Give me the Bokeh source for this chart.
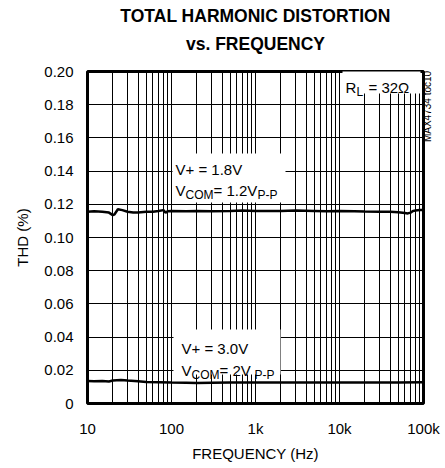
from bokeh.plotting import figure
from bokeh.models import (FixedTicker, PrintfTickFormatter, Label, BoxAnnotation,
                          Range1d, Title, LinearAxis)
from bokeh.embed import file_html
from bokeh.resources import INLINE
import math

# ---------------- data ----------------
x_tick_values = [10, 100, 1000, 10000, 100000]
x_tick_labels = ["10", "100", "1k", "10k", "100k"]
y_tick_values = [0, 0.02, 0.04, 0.06, 0.08, 0.10, 0.12, 0.14, 0.16, 0.18, 0.20]

freq_18 = [10, 12, 15, 18, 20, 21, 23, 26, 30, 35, 40, 50, 60, 70, 80, 85, 90, 100,
           150, 200, 300, 500, 700, 1000, 2000, 3000, 5000, 7000, 10000, 15000,
           20000, 30000, 40000, 50000, 60000, 65000, 70000, 75000, 80000, 90000, 100000]
thd_18 = [0.1155, 0.1158, 0.1155, 0.1150, 0.1135, 0.1140, 0.1170, 0.1165, 0.1155,
          0.1150, 0.1150, 0.1155, 0.1155, 0.1160, 0.1165, 0.1150, 0.1158, 0.1160,
          0.1158, 0.1160, 0.1158, 0.1160, 0.1162, 0.1160, 0.1160, 0.1162, 0.1160,
          0.1158, 0.1160, 0.1158, 0.1156, 0.1155, 0.1155, 0.1152, 0.1148, 0.1145,
          0.1150, 0.1160, 0.1162, 0.1165, 0.1165]

freq_30 = [10, 12, 15, 18, 20, 25, 30, 40, 50, 70, 100, 150, 200, 300, 500, 1000,
           2000, 5000, 10000, 20000, 50000, 100000]
thd_30 = [0.0135, 0.0134, 0.0136, 0.0133, 0.0138, 0.0142, 0.0138, 0.0134, 0.0130,
          0.0128, 0.0126, 0.0125, 0.0124, 0.0125, 0.0126, 0.0127, 0.0127, 0.0127,
          0.0127, 0.0127, 0.0127, 0.0128]

part_number = "MAX4734 toc10"
part_number_pos = 0.1575

FONT = "Liberation Sans"

# frame: left 87, right 423, top 69, bottom 403 in a 445x468 canvas
p = figure(width=445, height=468, x_axis_type="log", output_backend="svg",
           toolbar_location=None, min_border_left=87, min_border_right=22,
           min_border_top=69, min_border_bottom=65,
           x_range=Range1d(10, 100000), y_range=Range1d(0, 0.2))
p.title.visible = False
p.background_fill_color = "white"
p.border_fill_color = "white"
p.outline_line_color = "black"
p.outline_line_width = 3

# grid
minor = []
for d in [10, 100, 1000, 10000]:
    for k in range(1, 10):
        minor.append(d * k)
minor.append(100000)
p.xgrid.ticker = FixedTicker(ticks=minor)
p.ygrid.ticker = FixedTicker(ticks=y_tick_values)
for g in (p.xgrid, p.ygrid):
    g.grid_line_color = "black"
    g.grid_line_width = 1
    g.grid_line_alpha = 1.0

# axes
p.xaxis.ticker = FixedTicker(ticks=x_tick_values)
p.xaxis.major_label_overrides = {v: s for v, s in zip(x_tick_values, x_tick_labels)}
p.yaxis.ticker = FixedTicker(ticks=y_tick_values)
p.yaxis.formatter = PrintfTickFormatter(format="%.2f")
p.yaxis.major_label_overrides = {0: "0"}
for ax in (p.xaxis, p.yaxis):
    ax.axis_line_color = None
    ax.major_tick_line_color = None
    ax.minor_tick_line_color = None
    ax.major_tick_out = 0
    ax.major_tick_in = 0
    ax.minor_tick_out = 0
    ax.major_label_text_font = FONT
    ax.major_label_text_font_size = "15px"
    ax.major_label_text_color = "black"
    ax.axis_label_text_font = FONT
    ax.axis_label_text_font_size = "15px"
    ax.axis_label_text_font_style = "normal"
    ax.axis_label_text_color = "black"
p.xaxis.axis_label = "FREQUENCY (Hz)"
p.yaxis.axis_label = "THD (%)"
p.xaxis.major_label_standoff = 16
p.xaxis.axis_label_standoff = 5
p.yaxis.major_label_standoff = 14
p.yaxis.axis_label_standoff = 10

# right-hand axis only carrying the rotated part number (reads bottom to top)
pn_axis = LinearAxis(ticker=FixedTicker(ticks=[part_number_pos]),
                     major_label_overrides={part_number_pos: part_number},
                     major_label_orientation=math.pi / 2,
                     major_label_standoff=4,
                     major_label_text_font=FONT,
                     major_label_text_font_size="10px",
                     major_label_text_color="black",
                     axis_line_color=None, major_tick_line_color=None,
                     minor_tick_line_color=None, major_tick_out=0, major_tick_in=0,
                     minor_tick_out=0)
p.add_layout(pn_axis, "right")

# curves
p.line(freq_18, thd_18, line_color="black", line_width=2.5)
p.line(freq_30, thd_30, line_color="black", line_width=2.5)

# annotation helpers (screen units relative to the frame)
def lab(x, y, text, size="15px"):
    p.add_layout(Label(x=x, y=y, x_units="screen", y_units="screen", text=text,
                       text_font=FONT, text_font_size=size, text_align="left",
                       text_baseline="alphabetic", text_color="black"))

def box(l, r, b, t):
    p.add_layout(BoxAnnotation(left=l, right=r, bottom=b, top=t, left_units="screen",
                               right_units="screen", bottom_units="screen",
                               top_units="screen", fill_color="white", fill_alpha=1.0,
                               line_color=None, level="glyph"))

# upper text box
box(85, 198, 201, 250)
lab(88, 234, "V+ = 1.8V")
lab(88, 213, "V")
lab(98, 209, "COM", size="12px")
lab(126, 213, " = 1.2V")
lab(170, 209, "P-P", size="12px")

# lower text box
box(86, 193, 29, 74)
lab(94, 55, "V+ = 3.0V")
lab(94, 33, "V")
lab(104, 29, "COM", size="12px")
lab(132, 33, " = 2V")
lab(167, 29, "P-P", size="12px")

# R_L box
box(255, 333, 310, 333)
lab(258, 316, "R")
lab(269, 312, "L", size="12px")
lab(281, 316, "= 32\u03a9")

# titles (first added sits nearest the frame); a tiny spacer keeps them up
p.add_layout(Title(text=" ", align="center", text_font=FONT, text_font_size="1px",
                   standoff=12), "above")
p.add_layout(Title(text="vs. FREQUENCY", align="center", text_font=FONT,
                   text_font_size="17.5px", text_font_style="bold",
                   text_color="black", standoff=6), "above")
p.add_layout(Title(text="TOTAL HARMONIC DISTORTION", align="center", text_font=FONT,
                   text_font_size="17.5px", text_font_style="bold",
                   text_color="black", standoff=6), "above")

open("out.html", "w").write(file_html(p, INLINE))
